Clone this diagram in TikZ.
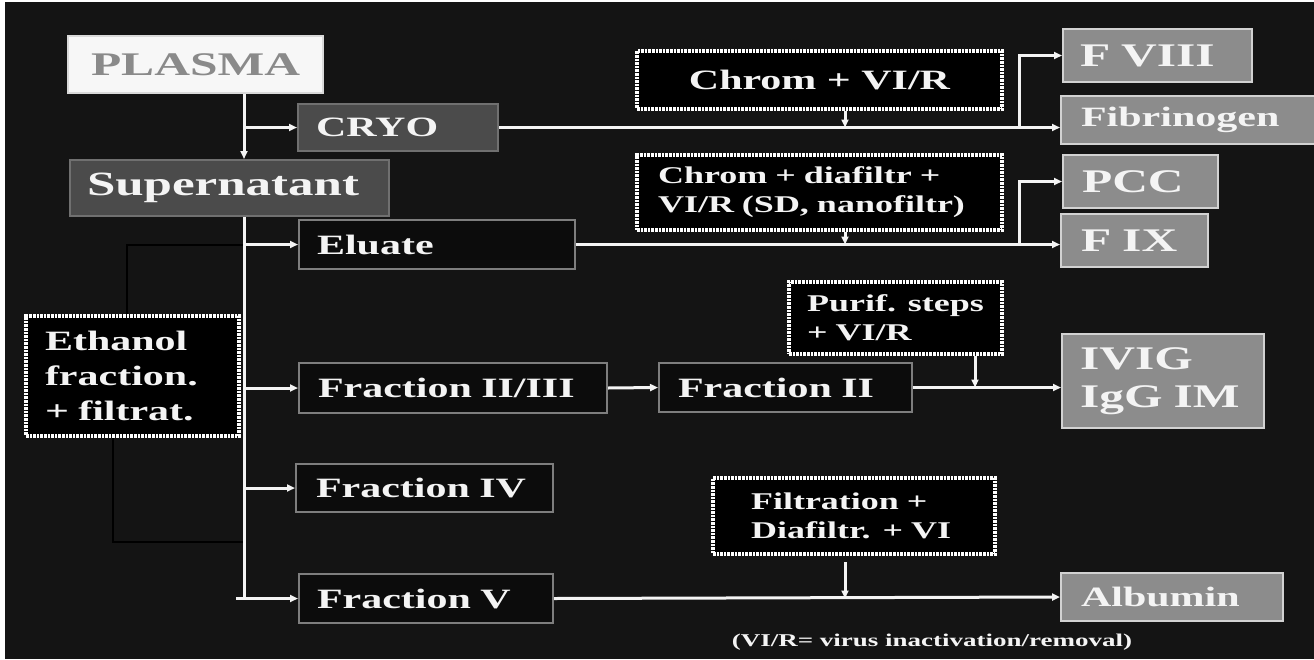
\documentclass[tikz,border=0pt]{standalone}
\usepackage{fontspec}
\setmainfont{Liberation Serif}[FakeStretch=1.5]
\usetikzlibrary{arrows.meta}

\definecolor{bgc}{HTML}{141414}
\definecolor{txt}{HTML}{F4F4F4}
\definecolor{plasmatxt}{HTML}{8A8A8A}
\definecolor{darkfill}{HTML}{4B4B4B}
\definecolor{darkedge}{HTML}{707070}
\definecolor{plainfill}{HTML}{0C0C0C}
\definecolor{plainedge}{HTML}{7E7E7E}
\definecolor{prodfill}{HTML}{8C8C8C}
\definecolor{prodedge}{HTML}{D2D2D2}

\newcommand\fplasma{\bfseries\fontsize{33}{38}\selectfont}
\newcommand\fsuper{\bfseries\fontsize{34}{40}\selectfont}
\newcommand\fmain{\bfseries\fontsize{28}{35}\selectfont}
\newcommand\fprod{\bfseries\fontsize{33}{38}\selectfont}
\newcommand\fproc{\bfseries\fontsize{24}{29}\selectfont}
\newcommand\fnote{\bfseries\fontsize{18}{21}\selectfont}

\begin{document}
\begin{tikzpicture}[x=1pt,y=-1pt,
  base/.style={anchor=north west, inner ysep=0pt, text=txt, font=\fmain, align=left},
  sz/.style n args={3}{minimum height=#1, inner xsep=#2, text width=#3},
  plainbox/.style={base, fill=plainfill, draw=plainedge, line width=2pt},
  darkbox/.style={base, fill=darkfill, draw=darkedge, line width=2pt},
  prodbox/.style={base, fill=prodfill, draw=prodedge, line width=2pt},
  procbox/.style={base, fill=black, draw=white, line width=4pt,
                  dash pattern=on 2.6pt off 1pt, font=\fproc},
  flow/.style={draw=txt, line width=3pt},
  arr/.style={-{Triangle[length=8pt,width=7pt]}},
  brk/.style={draw=black, line width=2pt}]

% canvas
\useasboundingbox (0,0) rectangle (1314,659);
\fill[white] (0,0) rectangle (1314,659);
\fill[bgc] (5,2) rectangle (1314,659);

% source and cryo branch
\node[base, fill=white!97!black, draw=white!85!black, line width=2pt,
      minimum width=255pt, minimum height=57pt, inner sep=0pt,
      align=center, text=plasmatxt, font=\fplasma] (plasma) at (67,35) {PLASMA};
\node[darkbox, sz={47pt}{18pt}{164pt}] (cryo) at (297,103) {CRYO};
\node[darkbox, sz={56pt}{17pt}{285pt}, font=\fsuper] (super) at (69,159) {Supernatant};

% intermediate fractions
\node[plainbox, sz={49pt}{18pt}{240pt}] (elu) at (298,219) {Eluate};
\node[plainbox, sz={50pt}{19pt}{270pt}] (f23) at (298,362) {\mbox{Fraction II/III}};
\node[plainbox, sz={48pt}{20pt}{217pt}] (f4) at (295,463) {\mbox{Fraction IV}};
\node[plainbox, sz={49pt}{18pt}{218pt}] (fv) at (298,573) {\mbox{Fraction V}};
\node[plainbox, sz={49pt}{19pt}{215pt}] (f2) at (658,362) {\mbox{Fraction II}};

% process steps
\node[procbox, sz={120pt}{19pt}{175pt}, font=\fmain] (eth) at (24,314)
  {Ethanol\\fraction.\\+ filtrat.};
\node[procbox, minimum width=365pt, minimum height=58pt, inner sep=0pt,
      align=center, font=\fmain] (chrom) at (635,49) {Chrom + VI/R};
\node[procbox, sz={75pt}{21pt}{323pt}] (cd) at (635,153)
  {\mbox{Chrom + diafiltr +}\\\mbox{VI/R (SD, nanofiltr)}};
\node[procbox, sz={72pt}{18pt}{177pt}] (pur) at (787,280)
  {\mbox{Purif. steps}\\+ VI/R};
\node[procbox, sz={76pt}{38pt}{206pt}] (filt) at (711,476)
  {\mbox{Filtration +}\\\mbox{Diafiltr. + VI}};

% products
\node[prodbox, sz={53pt}{17pt}{155pt}, font=\fprod] (f8) at (1062,28) {F VIII};
\node[prodbox, sz={48pt}{20pt}{214pt}] (fib) at (1060,95) {Fibrinogen};
\node[prodbox, sz={53pt}{19pt}{117pt}, font=\fprod] (pcc) at (1062,154) {PCC};
\node[prodbox, sz={53pt}{20pt}{107pt}, font=\fprod] (f9) at (1060,213) {F IX};
\node[prodbox, sz={94pt}{18pt}{166pt}, font=\fprod] (ivig) at (1061,333)
  {IVIG\\\mbox{IgG IM}};
\node[prodbox, sz={48pt}{20pt}{182pt}] (alb) at (1060,572) {Albumin};

\node[text=txt, font=\fnote, inner sep=0pt] (note) at (932,642)
  {(VI/R= virus inactivation/removal)};

% guide positions for vertical runs
\coordinate (trunk) at (244,0);
\coordinate (fork) at (1019,0);
\coordinate (feed) at (845,0);
\coordinate (feedII) at (975,0);
\coordinate (brkA) at (127,0);
\coordinate (brkB) at (113,0);
\coordinate (brkEnd) at (244,542);
\path ([yshift=-6pt]filt.south) coordinate (filtout);

% bracket around the ethanol step
\draw[brk] (elu.west -| trunk) -| (eth.north -| brkA);
\draw[brk] (eth.south -| brkB) |- (brkEnd);

% main trunk
\draw[flow, arr] (plasma.south -| trunk) -- (super.north -| trunk);
\draw[flow, arr] (cryo.west -| trunk) -- (cryo.west);
\draw[flow] (super.south -| trunk) -- (fv.west -| trunk);
\draw[flow, arr] (elu.west -| trunk) -- (elu.west);
\draw[flow, arr] (f23.west -| trunk) -- (f23.west);
\draw[flow, arr] (f4.west -| trunk) -- (f4.west);
\draw[flow, arr] ([xshift=-8pt]fv.west -| trunk) -- (fv.west);

% cryo line
\draw[flow, arr] (cryo.east) -- (cryo.east -| fib.west);
\draw[flow, arr] (cryo.east -| fork) |- (f8.west);
\draw[flow, arr] (chrom.south -| feed) -- (cryo.east -| feed);

% eluate line
\draw[flow, arr] (elu.east) -- (elu.east -| f9.west);
\draw[flow, arr] (elu.east -| fork) |- (pcc.west);
\draw[flow, arr] (cd.south -| feed) -- (elu.east -| feed);

% immunoglobulin line
\draw[flow, arr] (f23.east) -- (f2.west);
\draw[flow, arr] (f2.east) -- (f2.east -| ivig.west);
\draw[flow, arr] (pur.south -| feedII) -- (f2.east -| feedII);

% albumin line
\draw[flow, arr] (fv.east) -- (alb.west);
\draw[flow, arr] (filtout -| feed) -- (fv.east -| feed);
\end{tikzpicture}
\end{document}
